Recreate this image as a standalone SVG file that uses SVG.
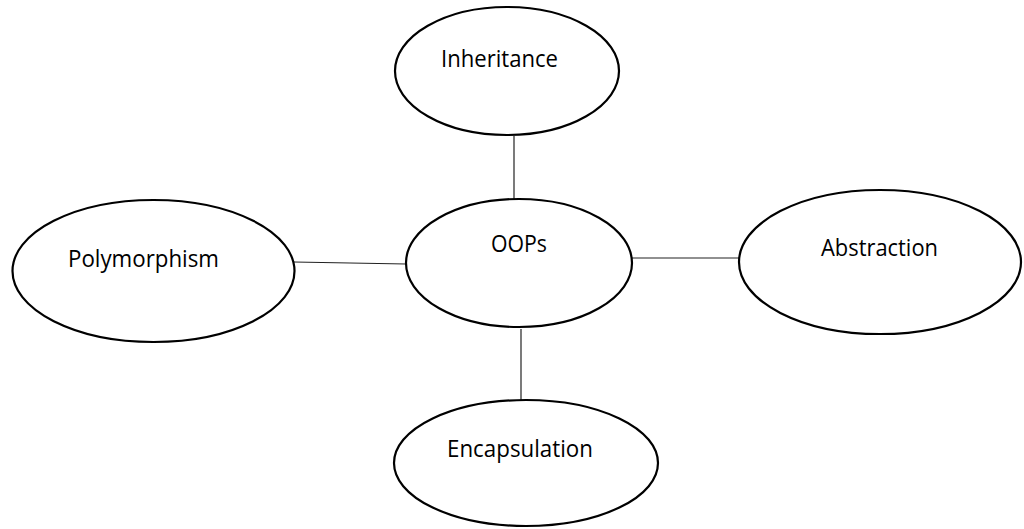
<svg xmlns="http://www.w3.org/2000/svg" width="1024" height="529" viewBox="0 0 1024 529">
<style>
.node ellipse{fill:#fff;stroke:#000;stroke-width:2.2}
.node text{font-family:"Open Sans","Liberation Sans",Arial,sans-serif;font-size:23.5px;fill:#000}
.edge line{stroke:#222;stroke-width:1.2}
</style>
<rect width="1024" height="529" fill="#fff"/>
<g id="connectors" class="edge">
<line x1="514" y1="136" x2="514" y2="199"/>
<line x1="294" y1="262" x2="406" y2="264"/>
<line x1="632" y1="258" x2="739" y2="258"/>
<line x1="521" y1="329" x2="521" y2="400"/>
</g>
<g id="inheritance" class="node">
<ellipse cx="507" cy="71" rx="112" ry="64"/>
<text x="441" y="67" textLength="117" lengthAdjust="spacingAndGlyphs">Inheritance</text>
</g>
<g id="oops" class="node">
<ellipse cx="519" cy="263" rx="113" ry="64"/>
<text x="491" y="252" textLength="56" lengthAdjust="spacingAndGlyphs">OOPs</text>
</g>
<g id="polymorphism" class="node">
<ellipse cx="153.5" cy="271" rx="141" ry="71"/>
<text x="68" y="267" textLength="151" lengthAdjust="spacingAndGlyphs">Polymorphism</text>
</g>
<g id="abstraction" class="node">
<ellipse cx="880" cy="262" rx="141" ry="72"/>
<text x="821" y="256" textLength="117" lengthAdjust="spacingAndGlyphs">Abstraction</text>
</g>
<g id="encapsulation" class="node">
<ellipse cx="526" cy="463" rx="132" ry="63"/>
<text x="447" y="457" textLength="146" lengthAdjust="spacingAndGlyphs">Encapsulation</text>
</g>
</svg>
